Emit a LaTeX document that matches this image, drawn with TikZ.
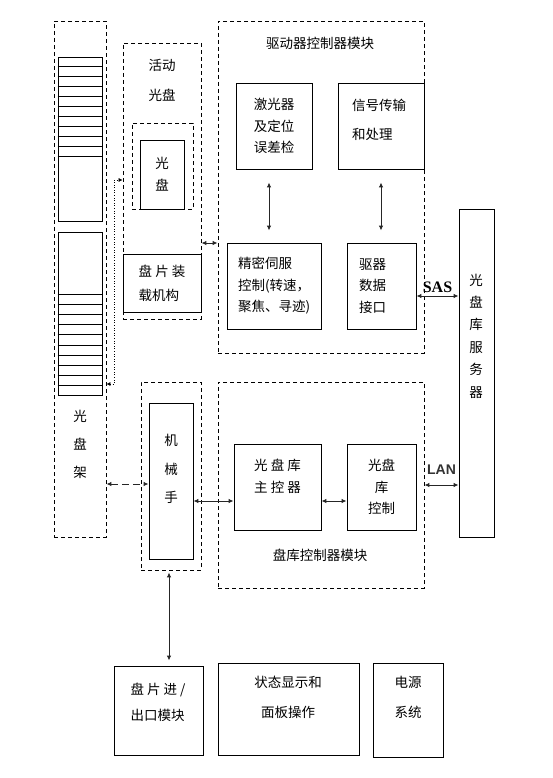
\documentclass[tikz,border=0pt]{standalone}
\usepackage{fontspec}
\usepackage{xcolor}
\newfontfamily\cjkfont{Noto Sans CJK SC}
\newfontfamily\sasfont{Liberation Serif}
\newfontfamily\lanfont{Liberation Sans}
\usetikzlibrary{arrows.meta,positioning,calc}

\begin{document}
\begin{tikzpicture}[
    x=1pt, y=-1pt,
    every node/.style={font=\cjkfont\fontsize{13.5}{22}\selectfont, align=center, inner sep=0pt},
    lskip/.style={font=\cjkfont\fontsize{13.5}{#1}\selectfont},
    box/.style={rectangle, draw=black, line width=0.8pt},
    frame/.style={rectangle, draw=black, line width=0.8pt, dash pattern=on 4pt off 3pt},
    arr/.style={{Latex[length=5pt,width=4.5pt]}-{Latex[length=5pt,width=4.5pt]}, line width=1pt, draw=black!85},
    dasharr/.style={arr, dash pattern=on 7pt off 4pt},
    dotarr/.style={{Latex[length=4pt,width=4pt]}-{Latex[length=4pt,width=4pt]}, line width=0.6pt, dotted}
]
\useasboundingbox (0,0) rectangle (552,778);

% Disc rack with two shelf stacks
\node[frame, minimum width=52pt, minimum height=516pt] (rack) at (80,279) {};
\node[box, minimum width=44pt, minimum height=164pt] (shelfA) at (80,139) {};
\node[box, minimum width=44pt, minimum height=163pt] (shelfB) at (80,313.5) {};
\foreach \k in {1,...,10} {
  \draw[line width=0.8pt] ($(shelfA.north west)+(0,10*\k)$) -- ($(shelfA.north east)+(0,10*\k)$);
  \draw[line width=0.8pt] ($(shelfB.south west)+(0,-10.1*\k)$) -- ($(shelfB.south east)+(0,-10.1*\k)$);
}
\node[lskip=28] (racktext) at (80,444) {光\\盘\\架};

% Active disc
\node[frame, minimum width=78pt, minimum height=276pt] (actbox) at (162,181) {};
\node[lskip=30] (acttitle) at (162,80) {活动\\光盘};
\node[frame, minimum width=61pt, minimum height=86pt] (diskframe) at (162.5,166) {};
\node[box, minimum width=44pt, minimum height=69pt] (disk) at (162,174.5) {光\\盘};
\node[box, minimum width=78pt, minimum height=58pt, lskip=24, align=left] (loader) at (162,283) {盘 片 装\\载机构};

% Drive controller module
\node[frame, minimum width=206pt, minimum height=332pt] (drvmod) at (321,187) {};
\node (drvtitle) at (320,43) {驱动器控制器模块};
\node[box, minimum width=76pt, minimum height=86pt, lskip=21.5] (laser) at (274,126) {激光器\\及定位\\误差检};
\node[box, minimum width=86pt, minimum height=86pt] (signal) at (381,126) {};
\node[lskip=29, align=left] (sigtext) at (379,119.5) {信号传输\\和处理};
\node[box, minimum width=94pt, minimum height=86pt, text width=72pt, align=left, lskip=21.5] (servo) at (274,286) {精密伺服\\控制(转速，\\聚焦、寻迹)};
\node[box, minimum width=69pt, minimum height=86pt, text width=45pt, align=left, lskip=21.5] (drvif) at (381.5,286) {驱器\\数据\\接口};

% Library server
\node[box, minimum width=35pt, minimum height=328pt] (server) at (476.5,373) {};
\node[lskip=22.4] (srvtext) at (476,336) {光\\盘\\库\\服\\务\\器};

% Robot arm
\node[frame, minimum width=60pt, minimum height=188pt] (robot) at (171,476) {};
\node[box, minimum width=44pt, minimum height=156pt] (arm) at (171,481) {};
\node[lskip=28.5] (armtext) at (171,469) {机\\械\\手};

% Library controller module
\node[frame, minimum width=206pt, minimum height=206pt] (libmod) at (321,485) {};
\node (libtitle) at (320,555) {盘库控制器模块};
\node[box, minimum width=87pt, minimum height=86pt] (mainctl) at (277.5,487) {};
\node (maintext) at (277.5,476) {光 盘 库\\主 控 器};
\node[box, minimum width=69pt, minimum height=86pt, lskip=21.5] (libctl) at (381.5,487) {光盘\\库\\控制};

% Bottom row
\node[box, minimum width=89pt, minimum height=89pt] (ioport) at (158.5,710.5) {};
\node[lskip=26, align=left] (iotext) at (158,702) {盘 片 进 /\\出口模块};
\node[box, minimum width=141pt, minimum height=92pt] (status) at (288.5,709) {};
\node[lskip=30] (stattext) at (288,697) {状态显示和\\面板操作};
\node[box, minimum width=70pt, minimum height=94pt] (power) at (408,710) {};
\node[lskip=30] (powtext) at (408,697) {电源\\系统};

% Connections
\coordinate (dotlow) at (114,384);
\coordinate (dothigh) at (114,180);
\draw[dotarr] (rack.east |- dotlow) -- (dotlow) -- (dothigh) -- (dothigh -| actbox.west);
\coordinate (armin) at ($(arm.west)+(0,3)$);
\draw[dasharr] (rack.east |- armin) -- (armin);
\coordinate (actout) at ($(actbox.east)+(0,62)$);
\draw[arr] (actout) -- (actout -| drvmod.west);
\draw[arr, shorten <=13pt, shorten >=12pt] ($(laser.south)+(-5,0)$) -- ($(servo.north)+(-5,0)$);
\draw[arr, shorten <=13pt, shorten >=12pt] (signal.south) -- (signal.south |- drvif.north);
\coordinate (sasout) at ($(drvif.east)+(0,10)$);
\draw[arr] (sasout) -- (sasout -| server.west)
  node[midway, above=3pt, font=\sasfont\bfseries\fontsize{16}{16}\selectfont] {SAS};
\draw[arr] (libmod.east) -- (libmod.east -| server.west)
  node[midway, above=10pt, font=\lanfont\bfseries\fontsize{14}{14}\selectfont, text=black!80] {LAN};
\coordinate (armout) at ($(arm.east)+(0,20)$);
\draw[arr] (armout) -- (armout -| mainctl.west);
\coordinate (mainout) at ($(mainctl.east)+(0,14)$);
\draw[arr] (mainout) -- (mainout -| libctl.west);
\coordinate (robotout) at ($(robot.south)+(-2,0)$);
\draw[arr, shorten <=2pt, shorten >=5pt] (robotout) -- (robotout |- ioport.north);

\end{tikzpicture}
\end{document}
